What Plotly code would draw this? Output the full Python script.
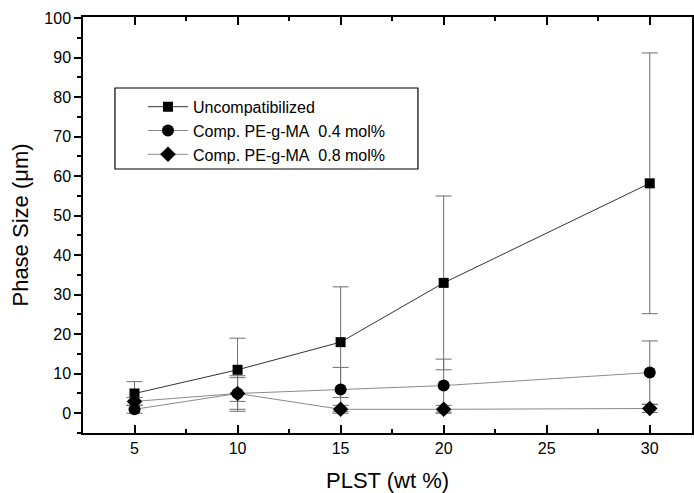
import plotly.graph_objects as go

x_vals = [5, 10, 15, 20, 30]
uncomp = [5, 11, 18, 33, 58.2]
uncomp_err = [3, 8, 14, 22, 33]
comp04 = [1, 5, 6, 7, 10.3]
comp04_err = [1, 4, 5.6, 6.7, 8]
comp08 = [3, 5, 1, 1, 1.2]
comp08_err = [1, 4.5, 1, 1, 1]

names = ["Uncompatibilized", "Comp. PE-g-MA\u00a0\u00a00.4 mol%", "Comp. PE-g-MA\u00a0\u00a00.8 mol%"]

FONT = "Liberation Sans, Arial, sans-serif"

fig = go.Figure()
series = [
    (uncomp, uncomp_err, "square", 10, "#333333"),
    (comp04, comp04_err, "circle", 12, "#8a8a8a"),
    (comp08, comp08_err, "diamond", 12, "#8a8a8a"),
]
for (ys, es, sym, sz, lc), nm in zip(series, names):
    fig.add_trace(go.Scatter(
        x=x_vals, y=ys, name=nm, mode="lines+markers",
        line=dict(color=lc, width=1),
        marker=dict(symbol=sym, size=sz, color="black"),
        error_y=dict(type="data", array=es, visible=True, color="#6e6e6e", thickness=1, width=8),
    ))

axis_common = dict(
    showline=True, linecolor="black", linewidth=1.5, mirror="ticks",
    showgrid=False, zeroline=False, tickcolor="black", automargin=False,
    tickfont=dict(family=FONT, size=16, color="black"),
)
fig.update_xaxes(
    range=[2.5, 32.05], tickvals=[5, 10, 15, 20, 25, 30], ticks="inside", ticklen=8, tickwidth=1.5,
    minor=dict(dtick=2.5, tick0=2.5, ticks="inside", ticklen=4, tickcolor="black"),
    title=dict(text="PLST (wt %)", font=dict(family=FONT, size=22, color="black"), standoff=17),
    **axis_common,
)
fig.update_yaxes(
    range=[-5, 100.3], tickvals=list(range(0, 101, 10)), ticks="outside", ticklen=7, tickwidth=1.5,
    minor=dict(dtick=5, tick0=0, ticks="outside", ticklen=4, tickcolor="black"),
    title=dict(text="Phase Size (μm)", font=dict(family=FONT, size=22, color="black"), standoff=10),
    **axis_common,
)
fig.add_shape(
    type="rect", xref="paper", yref="paper",
    x0=0.0525, x1=0.550, y0=0.6346, y1=0.8293,
    line=dict(color="black", width=1.2), fillcolor="white", layer="above",
)
fig.update_layout(
    width=694, height=493,
    margin=dict(l=83, r=2, t=17, b=60),
    plot_bgcolor="white", paper_bgcolor="white",
    legend=dict(
        x=0.0985, y=0.825, xanchor="left", yanchor="top",
        borderwidth=0, bgcolor="rgba(0,0,0,0)",
        font=dict(family=FONT, size=16, color="black"),
        tracegroupgap=0, itemwidth=40,
    ),
    showlegend=True,
)
fig.write_html("out.html")
